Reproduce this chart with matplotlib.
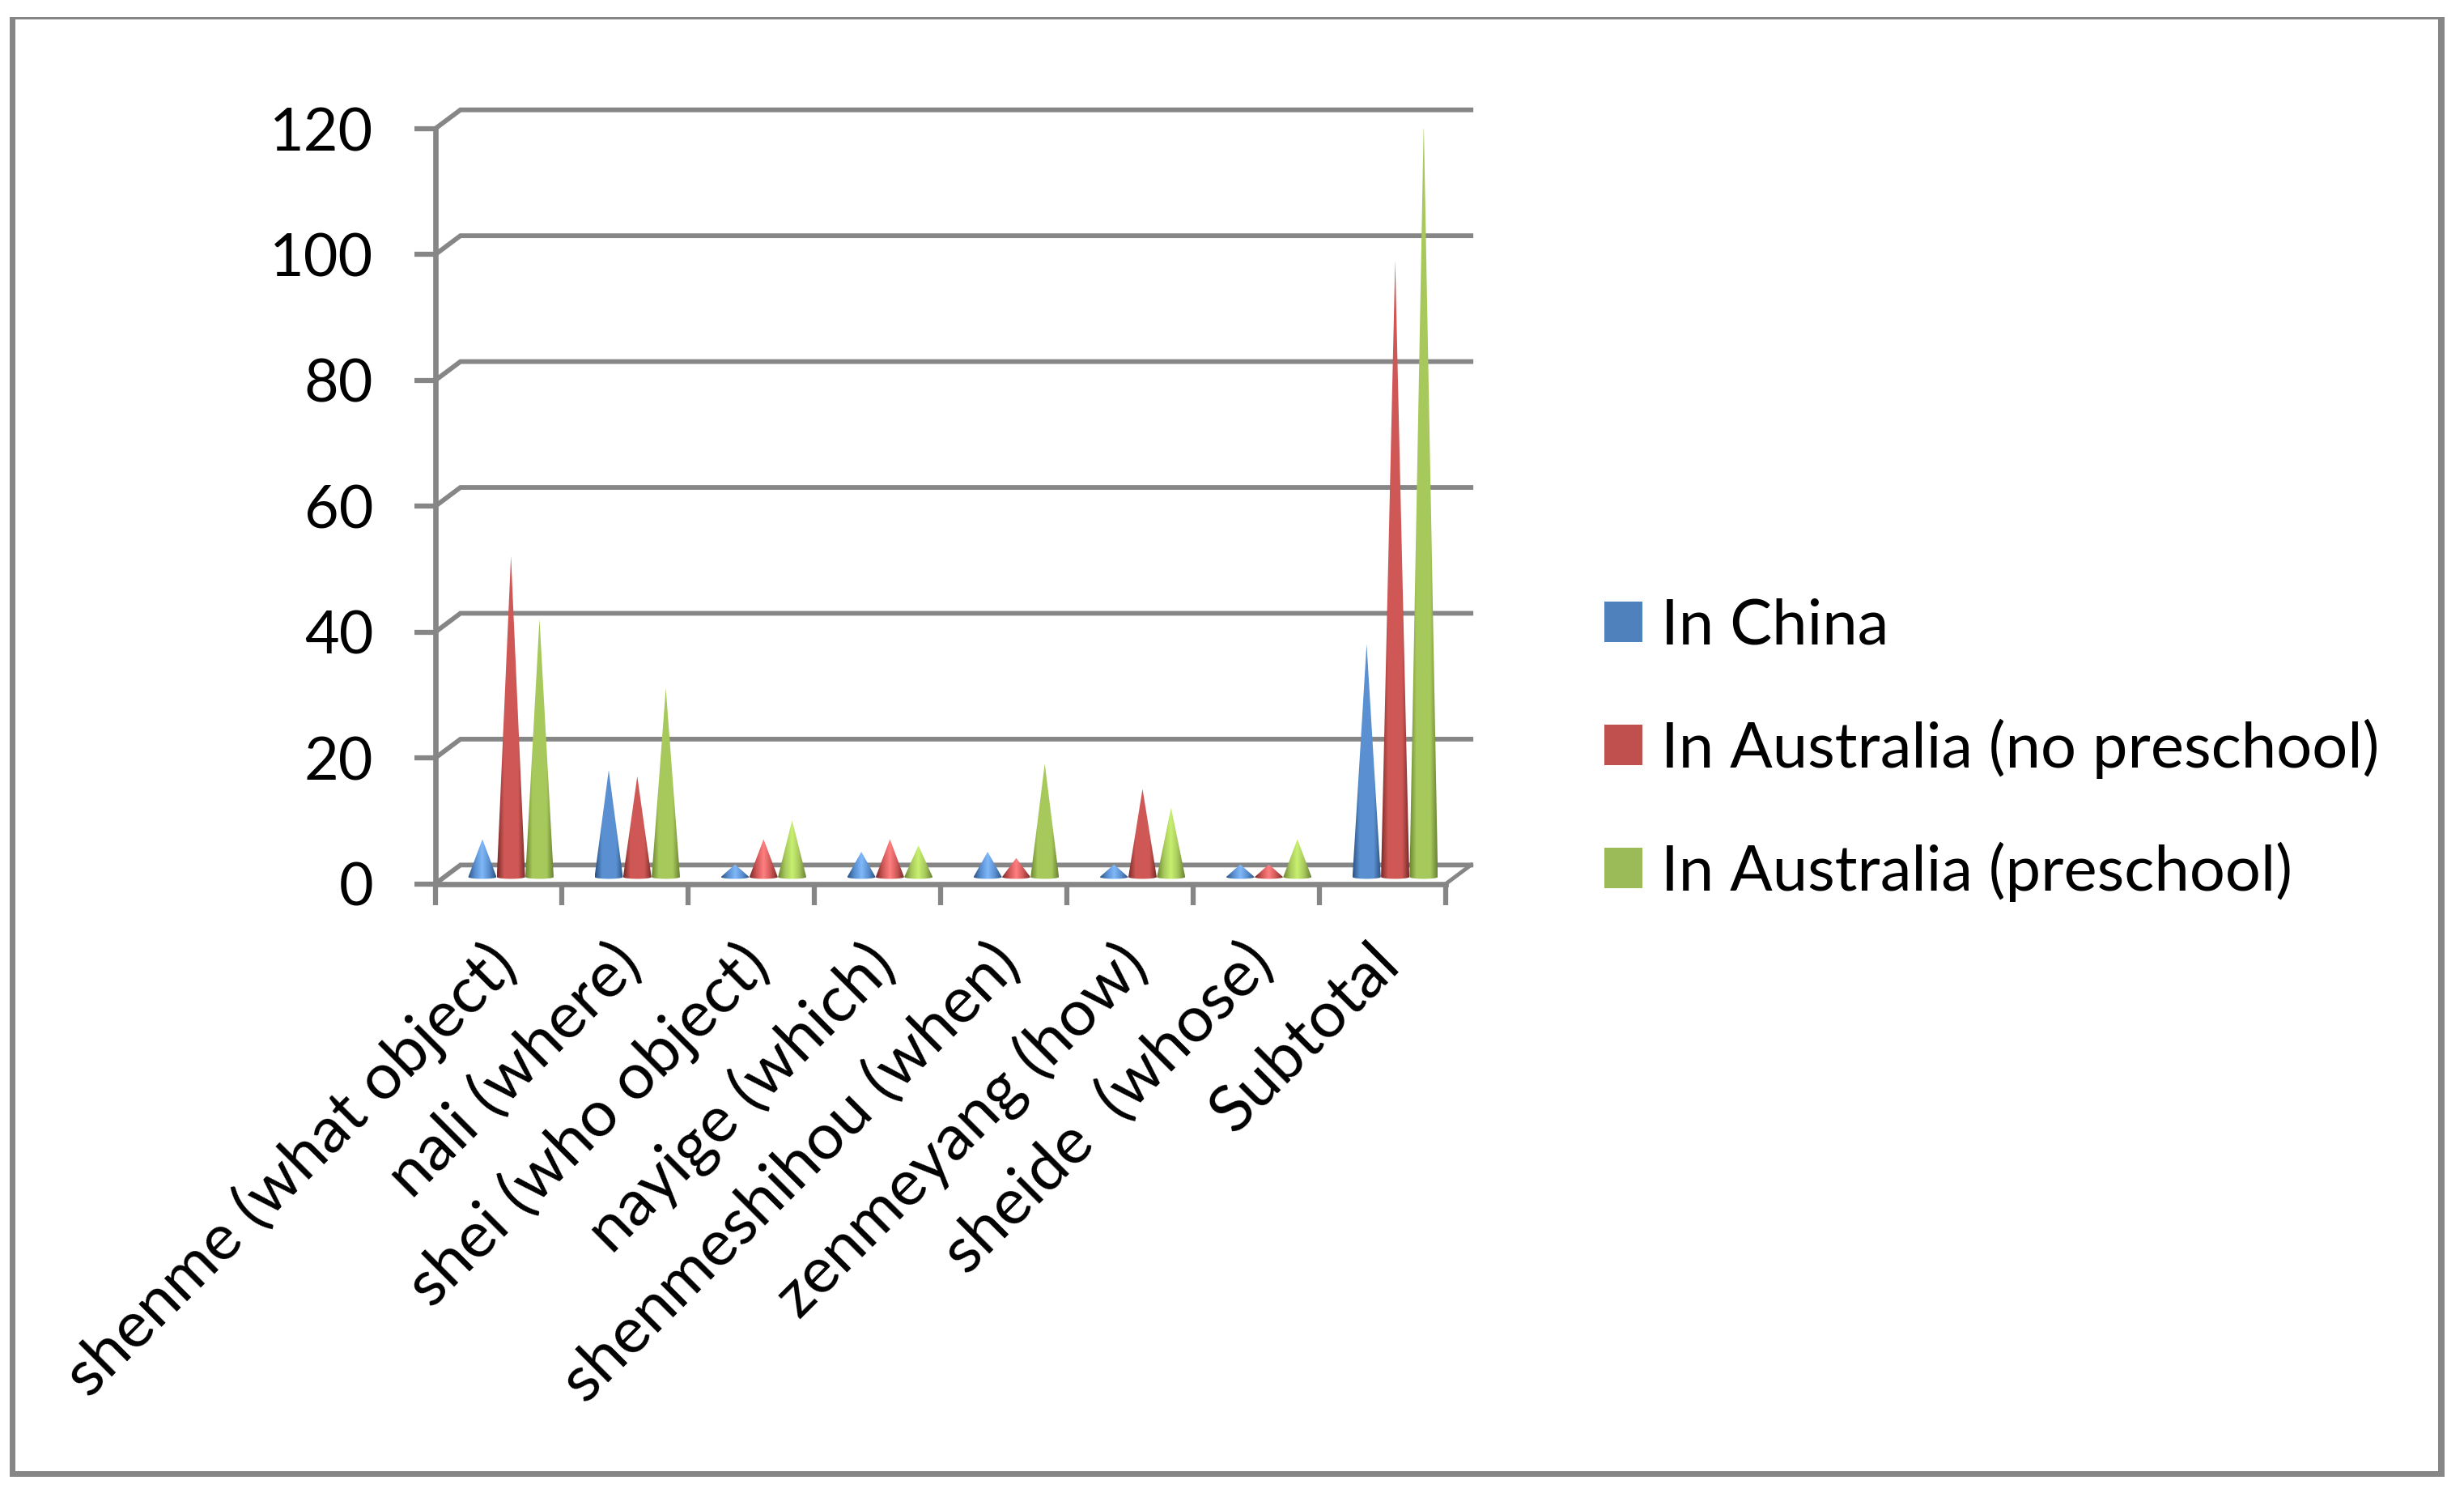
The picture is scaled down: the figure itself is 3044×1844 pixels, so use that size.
import matplotlib
matplotlib.use("Agg")
import matplotlib.pyplot as plt
import numpy as np
from matplotlib.colors import LinearSegmentedColormap
from matplotlib.patches import Patch, Polygon, Rectangle

categories = ["shenme (what object)", "nali (where)", "shei (who object)", "nayige (which)",
              "shenmeshihou (when)", "zenmeyang (how)", "sheide  (whose)", "Subtotal"]
in_china = [6, 17, 2, 4, 4, 2, 2, 37]
no_preschool = [51, 16, 6, 6, 3, 14, 2, 98]
preschool = [41, 30, 9, 5, 18, 11, 6, 120]
series_names = ["In China", "In Australia (no preschool)", "In Australia (preschool)"]
legend_colors = ["#4f81bd", "#c0504d", "#9bbb59"]
y_ticks = [0, 20, 40, 60, 80, 100, 120]

# edge, body, highlight on small cones
cone_colors = [("#2b5482", "#5a90d2", "#80b8f8"),
               ("#7a2b2a", "#cf5856", "#ff8080"),
               ("#6a8433", "#a7c95c", "#c8f070")]

W, H = 3044, 1844
GREY = "#868686"
plt.rcParams["font.family"] = ["Lato", "DejaVu Sans"]

fig = plt.figure(figsize=(W / 100, H / 100), dpi=100, facecolor="white")
# outer frame, the sides are not equally thick
fig.add_artist(Rectangle((12 / W, 1 - 1824 / H), 3008 / W, 1803 / H, transform=fig.transFigure,
                         facecolor=GREY, edgecolor="none", zorder=-2))
fig.add_artist(Rectangle((19 / W, 1 - 1817 / H), 2993 / W, 1793 / H, transform=fig.transFigure,
                         facecolor="white", edgecolor="none", zorder=-1))

ax = fig.add_axes([537.6 / W, 1 - 1091.7 / H, 1248.4 / W, 932.7 / H])

depth_x, depth_y = 0.2, 3.0
base = 1.1
half = 0.112
step = 0.226
center = 0.6

# back wall gridlines with the little slanted joins
for t in y_ticks:
    ax.plot([0, depth_x, 8 + depth_x], [t, t + depth_y, t + depth_y], color=GREY, lw=4.2,
            clip_on=False, zorder=1, solid_joinstyle="miter")
ax.plot([8, 8 + depth_x], [0, depth_y], color=GREY, lw=3.5, clip_on=False, zorder=1)

for s, values in enumerate([in_china, no_preschool, preschool]):
    edge, body, light = cone_colors[s]
    for i, v in enumerate(values):
        x = i + center + (s - 1) * step
        mid = light if v <= 11 else body
        cmap = LinearSegmentedColormap.from_list(
            "c", [edge, body, mid, body, edge], N=64)
        grad = np.linspace(0, 1, 64).reshape(1, -1)
        im = ax.imshow(grad, cmap=cmap, aspect="auto", zorder=3 + s,
                       extent=(x - half, x + half, base - 0.4, base + v), clip_on=True)
        a = np.linspace(0, np.pi, 20)
        outline = [(x, base + v)] + list(zip(x + half * np.cos(a), base - 0.3 * np.sin(a)))
        clip = Polygon(outline, closed=True, transform=ax.transData)
        im.set_clip_path(clip)

ax.set_xlim(0, 8)
ax.set_ylim(0, 120)
ax.patch.set_alpha(0)

for side in ["top", "right"]:
    ax.spines[side].set_visible(False)
for side in ["left", "bottom"]:
    ax.spines[side].set_color(GREY)
    ax.spines[side].set_linewidth(4.8)

ax.set_yticks(y_ticks)
ax.set_xticks(np.arange(0, 9))
ax.set_xticklabels([])
ax.set_xticks(np.arange(8) + 0.39, minor=True)
ax.set_xticklabels(categories, minor=True, rotation=45, ha="right", va="top",
                   rotation_mode="anchor", fontsize=57.5)
ax.tick_params(axis="x", which="minor", length=0, pad=44)
ax.tick_params(axis="both", which="major", length=19, width=4.5, color=GREY, labelsize=53)
ax.tick_params(axis="y", pad=36)

handles = [Patch(facecolor=c, edgecolor="none") for c in legend_colors]
fig.legend(handles, series_names, loc="center left", bbox_to_anchor=(1982 / W, 1 - 926 / H),
           bbox_transform=fig.transFigure, frameon=False, fontsize=56, borderpad=0, borderaxespad=0,
           handlelength=0.6, handleheight=0.6, handletextpad=0.3, labelspacing=1.0)

fig.savefig("out.png", dpi=100, facecolor="white")
